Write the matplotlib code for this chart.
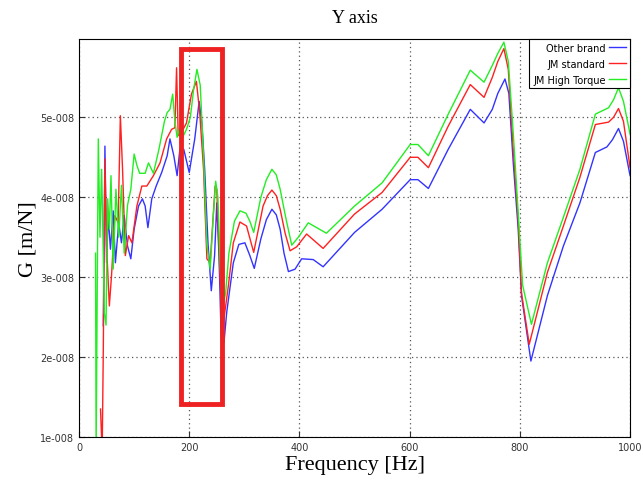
"""Y axis compliance chart"""
import numpy as np
import matplotlib
matplotlib.use('Agg')
from matplotlib import pyplot as plt
from matplotlib.patches import Rectangle
from matplotlib.ticker import FuncFormatter

# values in units of 1e-8 m/N
f_blue = [44, 47, 50, 53, 57, 62, 66, 72, 77, 82, 88, 94, 100, 108, 115, 120, 125, 132,
          140, 150, 160, 165, 172, 178, 183, 190, 200, 210, 218, 223, 228, 234, 240, 246,
          250, 254, 258, 263, 268, 280, 290, 301, 310, 318, 330, 340, 350, 358, 365, 372,
          380, 392, 404, 425, 443, 500, 550, 601, 615, 634, 670, 710, 735, 750, 760, 773,
          780, 788, 797, 803, 820, 850, 879, 909, 937, 958, 968, 979, 988, 1000]
g_blue = [2.39, 4.64, 3.18, 3.77, 3.35, 3.83, 3.18, 3.68, 3.43, 3.77, 3.39, 3.23, 3.6, 3.89,
          3.98, 3.89, 3.62, 3.98, 4.14, 4.31, 4.52, 4.73, 4.52, 4.27, 4.6, 4.6, 4.31, 4.73,
          5.2, 4.93, 4.35, 3.43, 2.83, 3.27, 3.93, 3.27, 2.23, 2.18, 2.56, 3.18, 3.41, 3.43,
          3.27, 3.11, 3.48, 3.72, 3.85, 3.78, 3.6, 3.3, 3.07, 3.1, 3.23, 3.22, 3.13, 3.56,
          3.85, 4.22, 4.22, 4.11, 4.6, 5.1, 4.93, 5.1, 5.3, 5.48, 5.3, 4.43, 3.6, 2.77, 1.95,
          2.77, 3.39, 3.93, 4.56, 4.63, 4.72, 4.86, 4.7, 4.27]

f_red = [39, 42, 44, 47, 50, 55, 59, 65, 71, 75, 79, 84, 90, 96, 105, 114, 123, 135, 147,
         159, 168, 174, 177, 180, 186, 195, 204, 213, 219, 226, 232, 238, 247, 250, 256,
         262, 271, 280, 292, 304, 317, 334, 342, 350, 358, 365, 374, 383, 395, 413, 443,
         500, 550, 601, 615, 634, 670, 710, 735, 750, 760, 771, 779, 788, 797, 803, 817,
         850, 879, 909, 937, 961, 970, 979, 988, 1000]
g_red = [1.35, 0.8, 2.06, 4.48, 3.39, 2.64, 3.02, 3.77, 3.68, 5.02, 4.35, 3.27, 3.52, 3.43,
         3.89, 4.14, 4.14, 4.27, 4.43, 4.73, 4.85, 4.87, 5.62, 4.77, 4.81, 4.93, 5.29, 5.45,
         5.06, 4.35, 3.23, 3.18, 4.14, 4.1, 2.98, 2.43, 2.89, 3.43, 3.69, 3.64, 3.31, 3.89,
         4.02, 4.09, 4.02, 3.85, 3.55, 3.33, 3.38, 3.54, 3.36, 3.79, 4.06, 4.5, 4.5, 4.37,
         4.89, 5.41, 5.25, 5.5, 5.7, 5.86, 5.6, 4.6, 3.7, 2.8, 2.16, 3.06, 3.64, 4.25, 4.91,
         4.94, 5.0, 5.11, 4.95, 4.37]

f_green = [30, 31, 33, 35, 38, 41, 44, 46, 49, 52, 55, 58, 62, 67, 72, 77, 82, 88, 94, 100,
           105, 110, 120, 126, 135, 145, 155, 160, 165, 170, 174, 178, 182, 188, 195, 202,
           208, 214, 220, 226, 232, 238, 244, 248, 252, 256, 260, 266, 272, 282, 292, 303,
           310, 317, 330, 340, 350, 358, 365, 375, 386, 398, 416, 449, 500, 550, 601, 615,
           634, 670, 710, 735, 750, 760, 771, 779, 788, 797, 805, 821, 850, 879, 909, 937,
           961, 970, 979, 988, 1000]
g_green = [3.3, 0.8, 2.8, 4.73, 3.5, 4.35, 3.3, 2.55, 2.4, 3.98, 3.6, 4.27, 3.1, 4.1, 3.5,
           4.15, 3.3, 3.9, 4.1, 4.54, 4.4, 4.3, 4.3, 4.43, 4.3, 4.6, 4.95, 5.06, 5.1, 5.29,
           4.95, 4.75, 4.85, 4.75, 4.85, 5.0, 5.35, 5.6, 5.4, 4.5, 3.4, 3.1, 3.8, 4.2, 4.0,
           3.2, 2.6, 2.8, 3.3, 3.7, 3.83, 3.8, 3.7, 3.56, 4.0, 4.22, 4.35, 4.28, 4.1, 3.75,
           3.4, 3.5, 3.68, 3.55, 3.89, 4.18, 4.66, 4.66, 4.52, 5.04, 5.59, 5.44, 5.65, 5.8,
           5.94, 5.7, 4.8, 3.8, 2.9, 2.41, 3.18, 3.75, 4.35, 5.04, 5.12, 5.22, 5.37, 5.2, 4.79]

# highlighted region (Hz, 1e-8 m/N)
box_f = (185, 260)
box_g = (1.41, 5.86)

scale = 1e-8

fig = plt.figure(figsize=(6.43, 4.85), dpi=100)
ax = fig.add_axes([0.1229, 0.0969, 0.857, 0.8206])

ax.plot(f_blue, np.array(g_blue) * scale, color='#3333ff', lw=1, label='Other brand')
ax.plot(f_red, np.array(g_red) * scale, color='#ff2020', lw=1, label='JM standard')
ax.plot(f_green, np.array(g_green) * scale, color='#22ee22', lw=1, label='JM High Torque')

ax.add_patch(Rectangle((box_f[0], box_g[0] * scale), box_f[1] - box_f[0],
                       (box_g[1] - box_g[0]) * scale, fill=False,
                       edgecolor='#ee2222', lw=3.5, zorder=5))

ax.set_xlim(0, 1000)
ax.set_ylim(1e-8, 5.98e-8)
ax.set_xticks([0, 200, 400, 600, 800, 1000])
ax.set_yticks([1e-8, 2e-8, 3e-8, 4e-8, 5e-8])
ax.yaxis.set_major_formatter(FuncFormatter(lambda y, _: f"{y / scale:.0f}e-008"))
ax.tick_params(axis='both', direction='in', labelsize=7, colors='#333333', length=4)
ax.grid(True, color='#555555', linestyle=(0, (1, 2.5)), lw=0.9)
for s in ax.spines.values():
    s.set_color('black')

ax.set_title('Y axis', fontsize=13, family='Liberation Serif', pad=12)
ax.set_xlabel('Frequency [Hz]', fontsize=16, family='Liberation Serif', labelpad=2)
ax.set_ylabel('G [m/N]', fontsize=16, family='Liberation Serif', labelpad=2)

leg = ax.legend(loc='upper right', markerfirst=False, fontsize=7, fancybox=False,
                borderaxespad=0, handlelength=1.8, handletextpad=0.3, labelspacing=0.6,
                framealpha=1)
leg.get_frame().set_edgecolor('black')
leg.get_frame().set_linewidth(0.8)

plt.savefig('out.png')
